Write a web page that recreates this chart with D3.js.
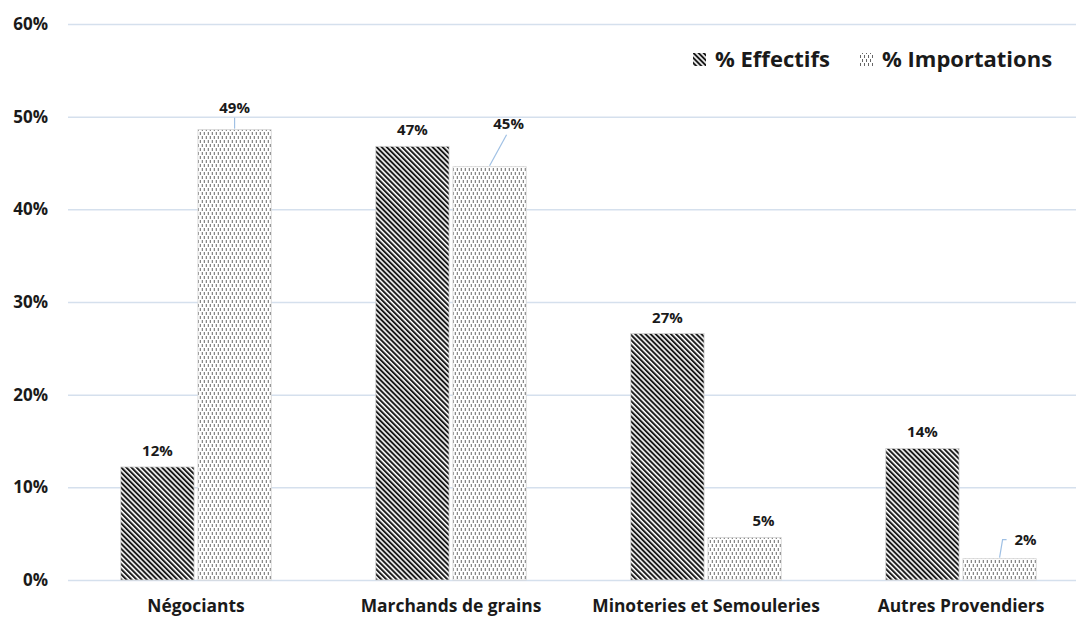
<!DOCTYPE html>
<html>
<head>
<meta charset="utf-8">
<script src="https://cdn.jsdelivr.net/npm/d3@7"></script>
<style>
  html, body { margin: 0; padding: 0; background: #fff; }
  svg { display: block; font-family: "Open Sans", Lato, sans-serif; font-weight: 700; }
</style>
</head>
<body>
<svg id="chart" width="1076" height="617"></svg>
<script>
// Répartition des opérateurs : part des effectifs et des importations
const categories = ["Négociants", "Marchands de grains", "Minoteries et Semouleries", "Autres Provendiers"];
const seriesNames = ["% Effectifs", "% Importations"];
const effectifs = [0.122, 0.468, 0.266, 0.142];
const importations = [0.486, 0.446, 0.046, 0.023];
const yTicks = [0, 0.1, 0.2, 0.3, 0.4, 0.5, 0.6];

const svg = d3.select("#chart");
const W = 1076;
const FONT = "'Open Sans', Lato, sans-serif";

const x0 = d3.scaleBand().domain(categories).range([68.5, 1088.5])
  .paddingInner(0.41).paddingOuter(0.205);
const x1 = d3.scaleBand().domain(seriesNames).range([0, x0.bandwidth()]).paddingInner(0.05);
const y = d3.scaleLinear().domain([0, 0.6]).range([580, 24]);
const pct = d3.format(".0%");

// Hachures des barres
const defs = svg.append("defs");
const stripes = defs.append("pattern").attr("id", "stripes")
  .attr("patternUnits", "userSpaceOnUse").attr("width", 3.6).attr("height", 3.6)
  .attr("patternTransform", "rotate(-45)");
stripes.append("rect").attr("width", 3.6).attr("height", 3.6).attr("fill", "#fff");
stripes.append("rect").attr("width", 2).attr("height", 3.6).attr("fill", "#1a1a1a");

const dashes = defs.append("pattern").attr("id", "dashes")
  .attr("patternUnits", "userSpaceOnUse").attr("width", 4).attr("height", 8);
dashes.append("rect").attr("width", 4).attr("height", 8).attr("fill", "#fff");
dashes.append("rect").attr("x", 1).attr("y", 0).attr("width", 1).attr("height", 3).attr("fill", "#666");
dashes.append("rect").attr("x", 3).attr("y", 4).attr("width", 1).attr("height", 3).attr("fill", "#666");

const fills = { "% Effectifs": "url(#stripes)", "% Importations": "url(#dashes)" };

// Grille horizontale et axe des ordonnées
const yAxis = d3.axisLeft(y).tickValues(yTicks).tickFormat(pct).tickSize(-(W - 68)).tickPadding(20);
const gy = svg.append("g").attr("transform", "translate(68,0)").call(yAxis);
gy.select(".domain").remove();
gy.selectAll(".tick line").attr("stroke", "#d5e0ed").attr("stroke-width", 1.5);
gy.selectAll(".tick text").attr("fill", "#1a1a1a").attr("font-size", 17)
  .attr("font-family", FONT).attr("font-weight", 700);

// Axe des catégories
const xAxis = d3.axisBottom(x0).tickSize(0).tickPadding(20);
const gx = svg.append("g").attr("transform", "translate(0,580)").call(xAxis);
gx.select(".domain").remove();
gx.selectAll(".tick text").attr("fill", "#1a1a1a").attr("font-size", 17.4)
  .attr("font-family", FONT).attr("font-weight", 700);

// Barres
const rows = categories.map((c, i) => ({
  cat: c,
  vals: [
    { s: seriesNames[0], v: effectifs[i] },
    { s: seriesNames[1], v: importations[i] }
  ]
}));

const groups = svg.append("g").selectAll("g").data(rows).join("g")
  .attr("transform", d => `translate(${x0(d.cat)},0)`);

groups.selectAll("rect").data(d => d.vals).join("rect")
  .attr("x", d => x1(d.s))
  .attr("y", d => y(d.v))
  .attr("width", x1.bandwidth())
  .attr("height", d => y(0) - y(d.v))
  .attr("fill", d => fills[d.s])
  .attr("stroke", "#d4d4d4")
  .attr("stroke-width", 0.8);

// Étiquettes de valeurs
const labelNudge = {
  "% Effectifs": [[0, -11], [0, -11], [0, -11], [0, -11]],
  "% Importations": [[0, -17], [19, -38], [19, -11], [26, -14]]
};

groups.each(function(d, i) {
  const g = d3.select(this);
  d.vals.forEach(v => {
    const cx = x1(v.s) + x1.bandwidth() / 2;
    const top = y(v.v);
    const [dx, dy] = labelNudge[v.s][i];
    const lx = cx + dx, ly = top + dy;
    g.append("text")
      .attr("x", lx).attr("y", ly)
      .attr("text-anchor", "middle")
      .attr("font-size", 15).attr("fill", "#1a1a1a")
      .text(pct(v.v));
    // lignes de repère pour les étiquettes décalées
    if (v.s === "% Importations" && i !== 2) {
      let pts;
      if (dx === 0) pts = [[cx, ly + 5], [cx, top - 1]];
      else if (i === 1) pts = [[lx - 2, ly + 6], [cx, top - 1]];
      else pts = [[lx - 19, ly - 5], [lx - 23, ly - 5], [cx, top - 1]];
      g.append("path")
        .attr("d", d3.line()(pts))
        .attr("fill", "none").attr("stroke", "#9fc0e4").attr("stroke-width", 1.2);
    }
  });
});

// Légende
const legend = svg.append("g").attr("transform", "translate(693,59)");
const legendItems = [
  { s: seriesNames[0], x: 0 },
  { s: seriesNames[1], x: 167 }
];
legendItems.forEach(it => {
  legend.append("rect").attr("x", it.x).attr("y", -6).attr("width", 13).attr("height", 13)
    .attr("fill", fills[it.s]);
  legend.append("text").attr("x", it.x + 22).attr("y", 8)
    .attr("font-size", 22).attr("fill", "#1a1a1a").text(it.s);
});
</script>
</body>
</html>
